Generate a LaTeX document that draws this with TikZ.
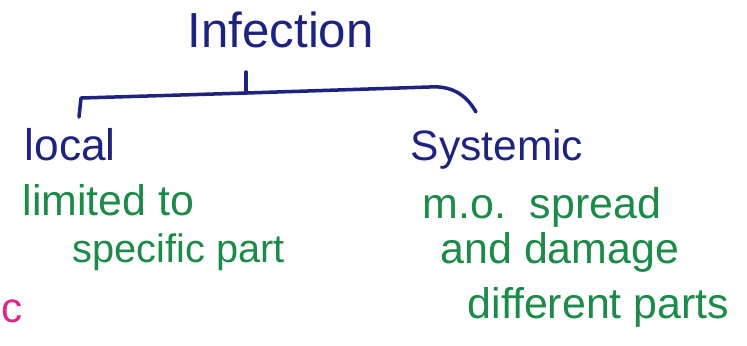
\documentclass[tikz,border=0pt]{standalone}
\usepackage{fontspec}
\setmainfont{Liberation Sans}
\definecolor{tinta}{RGB}{30,35,128}
\definecolor{verde}{RGB}{28,138,72}
\definecolor{rosa}{RGB}{222,40,132}
\begin{document}
\begin{tikzpicture}[
    tit/.style={tinta, inner sep=0pt, anchor=base west, font=\fontsize{14}{16}\selectfont},
    rama/.style={tinta, inner sep=0pt, anchor=base west, font=\fontsize{12.6}{15}\selectfont},
    nota/.style={verde, inner sep=0pt, anchor=base west, font=\fontsize{12.2}{15}\selectfont},
    trazo/.style={tinta, line width=1pt, line cap=round, line join=round}
]
        \useasboundingbox (0,0) rectangle (7.47,-3.45);

        % Titulo
        \node[tit] (infeccion) at (1.87,-0.47) {Infection};

        % Ramas
        \node[rama] (local) at (0.24,-1.60) {local};
        \node[rama, font=\fontsize{12.1}{15}\selectfont] (sistemica) at (4.10,-1.60) {Systemic};

        % Llave
        \coordinate (marca) at (2.46,-0.72);
        \coordinate (nudo) at (2.46,-0.93);
        \coordinate (izq) at (0.79,-1.17);
        \coordinate (der) at (4.76,-1.12);
        \draw[trazo] (marca) -- (nudo);
        \draw[trazo] (nudo) -- (0.81,-0.98) -- (izq);
        \draw[trazo] (nudo) -- (4.29,-0.87) .. controls (4.55,-0.85) and (4.68,-0.98) .. (der);

        % Notas en verde
        \node[nota] (lim) at (0.22,-2.15) {limited to};
        \node[nota, font=\fontsize{11.3}{14}\selectfont] (parte) at (0.72,-2.62) {specific part};
        \node[nota] (mo) at (4.22,-2.18) {m.o.\ \ spread};
        \node[nota] (dano) at (4.40,-2.63) {and damage};
        \node[nota] (partes) at (4.67,-3.18) {different parts};

        % Letra al borde
        \node[rosa, inner sep=0pt, anchor=base west, font=\fontsize{12}{14}\selectfont] (letra) at (0.01,-3.22) {c};
\end{tikzpicture}
\end{document}
